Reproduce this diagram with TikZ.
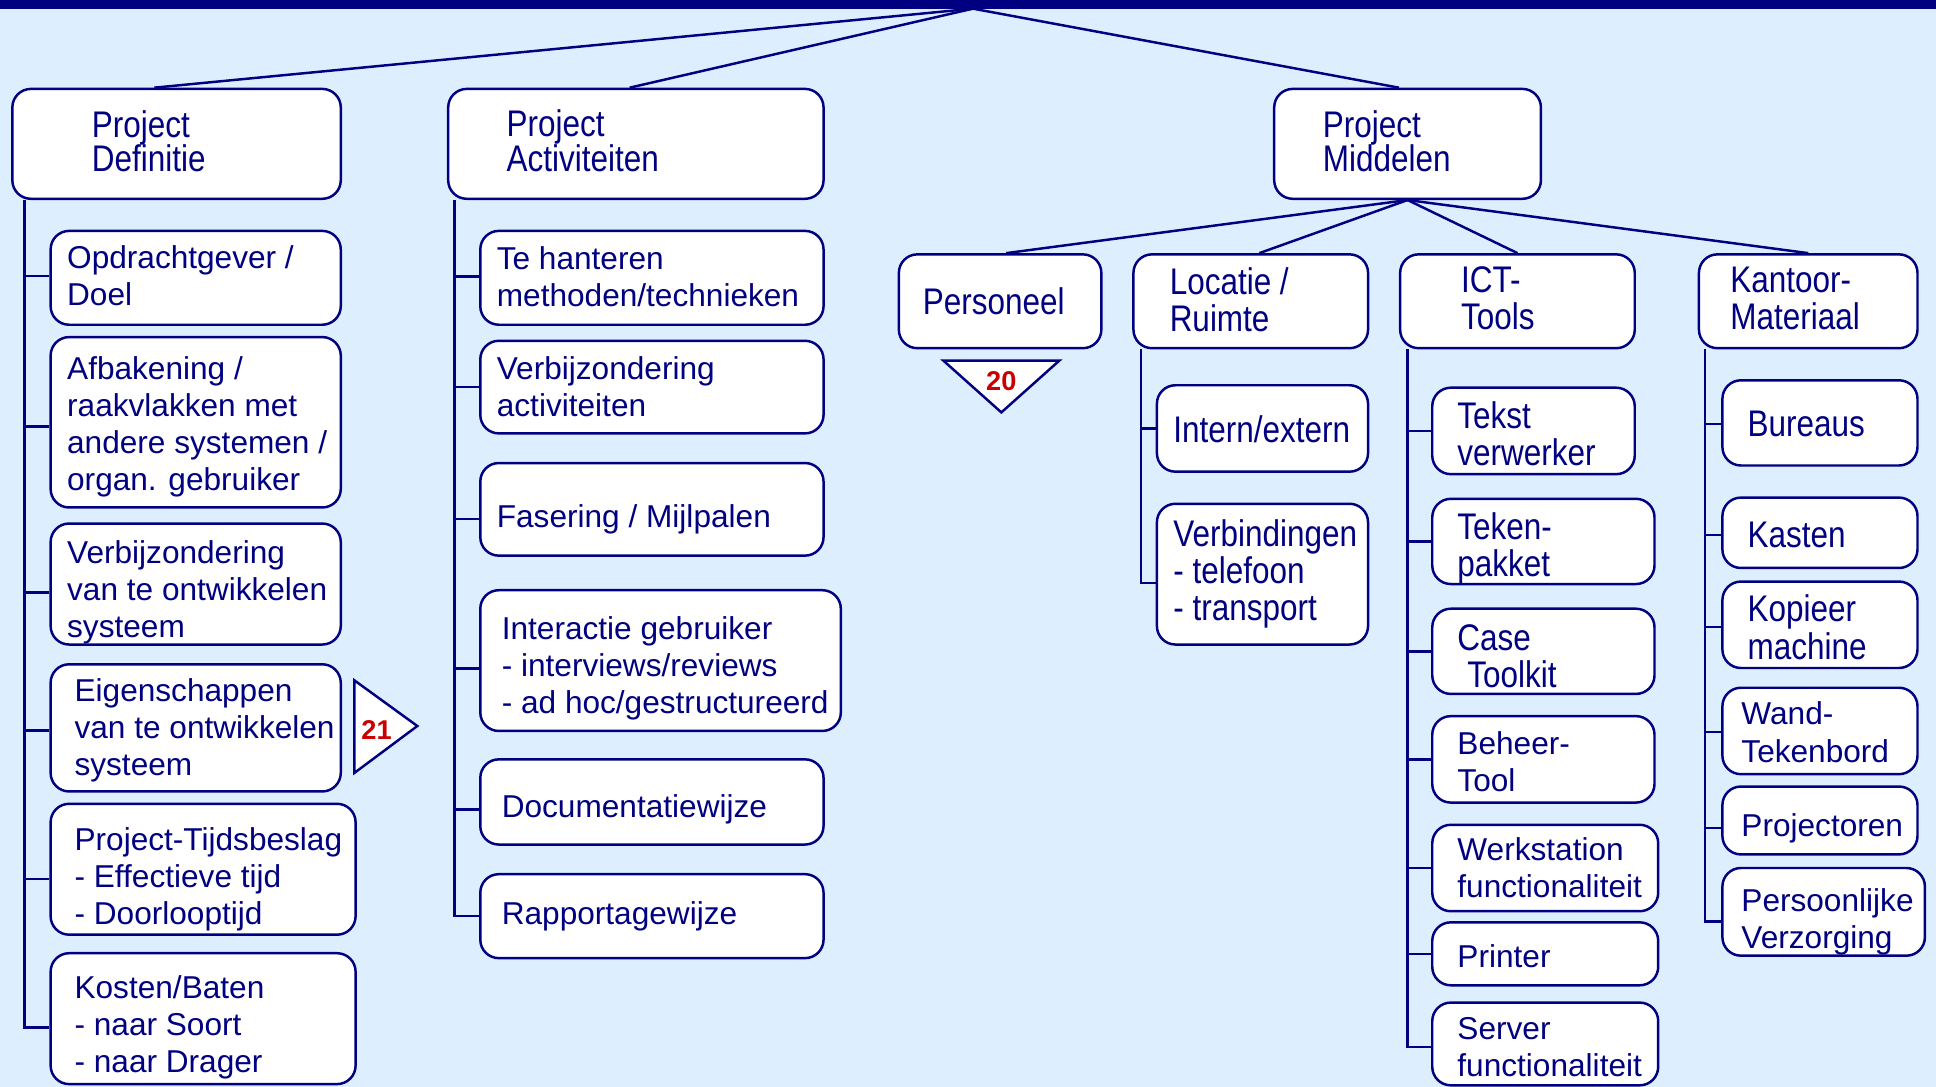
\documentclass[tikz,border=0pt]{standalone}
\usepackage{fontspec}
\setmainfont{Liberation Sans}
\newfontfamily\narrowfont[FakeStretch=0.85]{Liberation Sans}
\definecolor{navy}{HTML}{000080}
\definecolor{bgblue}{HTML}{DDEFFF}
\definecolor{numred}{HTML}{CC0000}
\tikzset{
  boxst/.style={draw=navy, line width=1pt, fill=white, rounded corners=7.5pt, inner sep=0pt},
  txt/.style={text=navy, font=\fontsize{12.8}{15}\selectfont, align=left, inner sep=0pt, anchor=west},
  ntxt/.style={txt, font=\narrowfont\fontsize{15}{15}\selectfont},
  htxt/.style={txt, font=\narrowfont\fontsize{15}{14}\selectfont},
  conn/.style={draw=navy, line width=1pt},
  tri/.style={draw=navy, line width=1pt, fill=white, line join=miter},
  numst/.style={text=numred, font=\bfseries\fontsize{11}{12}\selectfont, inner sep=0pt}
}
% name, x1, y1, x2, y2, text x, text y, text style, text
\newcommand\tbox[9]{%
  \node[boxst, minimum width={(#4-#2)*0.5pt}, minimum height={(#5-#3)*0.5pt}] (#1) at ({(#2+#4)/2},{(#3+#5)/2}) {};
  \node[#8] (#1-t) at (#6,#7) {#9};
}
\begin{document}
\begin{tikzpicture}[x=0.5pt,y=-0.5pt]
\useasboundingbox (0,0) rectangle (1568,880);
\fill[bgblue] (0,0) rectangle (1568,880);
\fill[navy] (0,0) rectangle (1568,7);

% top level
\tbox{hdDef}{10}{72}{276}{161}{74}{114.5}{htxt}{Project\\Definitie}
\tbox{hdAct}{363}{72}{667}{161}{410}{114}{htxt}{Project\\Activiteiten}
\tbox{hdMid}{1032}{72}{1248}{161}{1071}{114.5}{htxt}{Project\\Middelen}

\coordinate (root) at (788,7);
\draw[conn] (root) -- ([xshift=-9pt]hdDef.north);
\draw[conn] (root) -- ([xshift=-2.5pt]hdAct.north);
\draw[conn] (root) -- ([xshift=-3.5pt]hdMid.north);

% Project Definitie
\tbox{d1}{41}{187}{276}{263}{54}{223.5}{txt}{Opdrachtgever /\\Doel}
\tbox{d2}{41}{273}{276}{411}{54}{345.5}{txt}{Afbakening /\\raakvlakken met\\andere systemen /\\organ. gebruiker}
\tbox{d3}{41}{424}{276}{522}{54}{480}{txt}{Verbijzondering\\van te ontwikkelen\\systeem}
\tbox{d4}{41}{538}{276}{641}{60}{591.5}{txt}{Eigenschappen\\van te ontwikkelen\\systeem}
\tbox{d5}{41}{651}{288}{757}{60}{712}{txt}{Project-Tijdsbeslag\\- Effectieve tijd\\- Doorlooptijd}
\tbox{d6}{41}{772}{288}{878}{60}{832}{txt}{Kosten/Baten\\- naar Soort\\- naar Drager}

\coordinate (vD) at ([xshift=5.5pt]hdDef.south west);
\draw[conn] (vD) |- (d6.west |- d6-t);
\foreach \n in {d1,d2,d3,d4,d5} \draw[conn] (vD |- \n-t) -- (\n.west |- \n-t);

\draw[tri] (287,551) -- (287,626) -- (338,588) -- cycle;
\node[numst] (n21) at (305,591) {21};

% Project Activiteiten
\tbox{a1}{389}{187}{667}{263}{402}{224}{txt}{Te hanteren\\methoden/technieken}
\tbox{a2}{389}{276}{667}{351}{402}{313.5}{txt}{Verbijzondering\\activiteiten}
\tbox{a3}{389}{375}{667}{450}{402}{420.5}{txt}{Fasering / Mijlpalen}
\tbox{a4}{389}{478}{681}{592}{406}{541.5}{txt}{Interactie gebruiker\\- interviews/reviews\\- ad hoc/gestructureerd}
\tbox{a5}{389}{615}{667}{684}{406}{655.5}{txt}{Documentatiewijze}
\tbox{a6}{389}{708}{667}{776}{406}{742}{txt}{Rapportagewijze}

\coordinate (vA) at ([xshift=3pt]hdAct.south west);
\draw[conn] (vA) |- (a6.west |- a6-t);
\foreach \n in {a1,a2,a3,a4,a5} \draw[conn] (vA |- \n-t) -- (\n.west |- \n-t);

% Project Middelen
\tbox{m1}{728}{206}{892}{282}{747}{244}{ntxt}{Personeel}
\tbox{m2}{918}{206}{1108}{282}{947}{242.5}{ntxt}{Locatie /\\Ruimte}
\tbox{m3}{1134}{206}{1324}{282}{1183}{241.5}{ntxt}{ICT-\\Tools}
\tbox{m4}{1376}{206}{1553}{282}{1401}{242}{ntxt}{Kantoor-\\Materiaal}

\draw[conn] (hdMid.south) -- ([xshift=2.5pt]m1.north);
\draw[conn] (hdMid.south) -- ([xshift=3.5pt]m2.north);
\draw[conn] (hdMid.south) -- (m3.north);
\draw[conn] (hdMid.south) -- (m4.north);

\draw[tri] (764,292) -- (858,292) -- (811,334) -- cycle;
\node[numst] (n20) at (811,309) {20};

% Locatie / Ruimte
\tbox{l1}{937}{312}{1108}{382}{950}{348}{ntxt}{Intern/extern}
\tbox{l2}{937}{408}{1108}{522}{950}{465}{ntxt}{Verbindingen\\- telefoon\\- transport}
\coordinate (vL) at ([xshift=3.5pt]m2.south west);
\draw[conn] (vL) |- ([yshift=-3.5pt]l2.west);
\draw[conn] (vL |- l1.west) -- (l1.west);

% ICT-Tools
\tbox{i1}{1160}{314}{1324}{384}{1180}{351}{ntxt}{Tekst\\verwerker}
\tbox{i2}{1160}{404}{1340}{473}{1180}{444.5}{ntxt}{Teken-\\pakket}
\tbox{i3}{1160}{493}{1340}{562}{1180}{531.5}{ntxt}{Case\\\hspace*{4pt}Toolkit}
\tbox{i4}{1160}{580}{1340}{650}{1180}{617}{txt}{Beheer-\\Tool}
\tbox{i5}{1160}{668}{1343}{738}{1180}{703}{txt}{Werkstation\\functionaliteit}
\tbox{i6}{1160}{747}{1343}{798}{1180}{774.5}{txt}{Printer}
\tbox{i7}{1160}{812}{1343}{879}{1180}{848}{txt}{Server\\functionaliteit}
\coordinate (vI) at ([xshift=3.5pt]m3.south west);
\draw[conn] (vI) |- (i7.west |- i7-t);
\foreach \n in {i1,i2,i3,i4,i5,i6} \draw[conn] (vI |- \n.west) -- (\n.west);

% Kantoor-Materiaal
\tbox{k1}{1395}{308}{1553}{377}{1415}{343.5}{ntxt}{Bureaus}
\tbox{k2}{1395}{403}{1553}{460}{1415}{433.5}{ntxt}{Kasten}
\tbox{k3}{1395}{471}{1553}{541}{1415}{508}{ntxt}{Kopieer\\machine}
\tbox{k4}{1395}{557}{1553}{627}{1410}{593}{txt}{Wand-\\Tekenbord}
\tbox{k5}{1395}{637}{1553}{692}{1410}{670.5}{txt}{Projectoren}
\tbox{k6}{1395}{703}{1559}{774}{1410}{746.5}{txt}{Persoonlijke\\Verzorging}
\coordinate (vK) at ([xshift=3pt]m4.south west);
\draw[conn] (vK) |- (k6.west |- k6-t);
\foreach \n in {k1,k2,k3,k4,k5} \draw[conn] (vK |- \n-t) -- (\n.west |- \n-t);
\end{tikzpicture}
\end{document}
